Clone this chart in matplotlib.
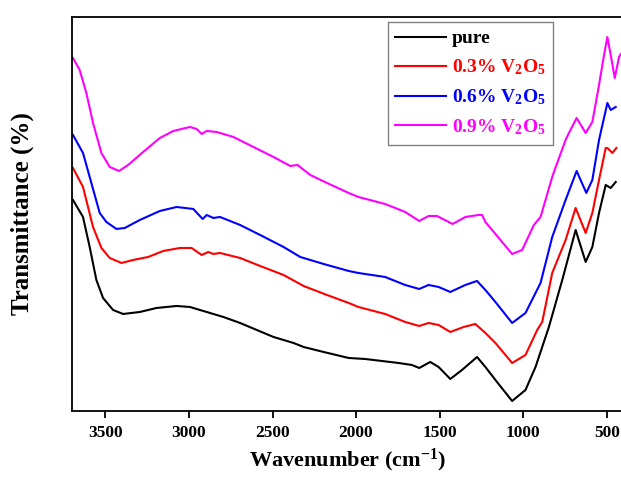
"""FTIR spectra of pure and V2O5-doped samples."""
import matplotlib
matplotlib.use("Agg")
import matplotlib.pyplot as plt

plt.rcParams['font.family'] = ['Liberation Serif', 'DejaVu Serif']
plt.rcParams['font.weight'] = 'bold'
plt.rcParams['mathtext.default'] = 'regular'

# Wavenumber (cm-1) and transmittance (arbitrary, offset)
wn_pure = [3694, 3634, 3594, 3554, 3514, 3454, 3394, 3294, 3194, 3074, 2994, 2894,
           2794, 2694, 2594, 2494, 2374, 2314, 2194, 2044, 1946, 1746, 1666, 1622,
           1556, 1506, 1436, 1366, 1276, 1226, 1166, 1066, 986, 926, 846, 766, 686,
           626, 586, 546, 506, 476, 446]
t_pure = [211, 194, 164, 131, 113, 101, 97, 99, 103, 105, 104, 99,
          94, 88, 81, 74, 68, 64, 59, 53, 52, 48, 46, 43,
          49, 44, 32, 41, 54, 44, 31, 10, 21, 44, 84, 131, 181,
          149, 164, 198, 226, 223, 229]

wn_03 = [3694, 3634, 3574, 3524, 3474, 3404, 3334, 3244, 3154, 3054, 2984, 2924,
         2884, 2854, 2814, 2694, 2574, 2434, 2314, 2174, 2044, 1986, 1826, 1706,
         1622, 1566, 1506, 1436, 1356, 1286, 1226, 1166, 1066, 986, 916, 886, 826,
         746, 686, 626, 586, 546, 506, 496, 466, 442]
t_03 = [243, 224, 184, 163, 153, 148, 151, 154, 160, 163, 163, 156,
        159, 157, 158, 153, 145, 136, 125, 116, 108, 104, 97, 89,
        85, 88, 86, 79, 84, 87, 78, 68, 48, 56, 81, 89, 138,
        171, 203, 178, 198, 231, 263, 263, 258, 263]

wn_06 = [3694, 3634, 3584, 3534, 3494, 3434, 3384, 3294, 3174, 3074, 2974, 2918,
         2894, 2854, 2814, 2694, 2574, 2434, 2334, 2194, 2044, 1986, 1826, 1706,
         1622, 1566, 1506, 1436, 1346, 1276, 1226, 1166, 1066, 986, 896, 826, 746,
         680, 622, 586, 546, 496, 476, 446]
t_06 = [276, 258, 228, 198, 189, 182, 183, 191, 200, 204, 202, 192,
        196, 193, 194, 186, 176, 164, 154, 147, 140, 138, 134, 126,
        122, 126, 124, 119, 126, 130, 121, 109, 88, 98, 128, 174, 211,
        240, 218, 231, 271, 308, 301, 304]

wn_09 = [3694, 3654, 3614, 3574, 3524, 3474, 3418, 3364, 3274, 3174, 3094, 2994,
         2954, 2924, 2894, 2834, 2734, 2614, 2494, 2394, 2350, 2274, 2174, 2044,
         1986, 1826, 1706, 1622, 1566, 1516, 1422, 1346, 1266, 1246, 1226, 1146,
         1066, 1006, 936, 896, 826, 816, 746, 726, 680, 626, 586, 546, 516, 496,
         476, 452, 426, 400]
t_09 = [353, 341, 318, 288, 258, 244, 240, 246, 259, 273, 280, 284,
        282, 277, 280, 279, 274, 264, 254, 245, 246, 236, 228, 218,
        214, 207, 199, 190, 195, 195, 187, 194, 196, 196, 189, 173,
        157, 161, 186, 194, 234, 239, 271, 278, 293, 278, 289, 326, 356, 374,
        356, 333, 354, 361]

series = [
    ("pure", wn_pure, t_pure, "black"),
    ("0.3% V$_2$O$_5$", wn_03, t_03, "red"),
    ("0.6% V$_2$O$_5$", wn_06, t_06, "blue"),
    ("0.9% V$_2$O$_5$", wn_09, t_09, "magenta"),
]

fig = plt.figure(figsize=(6.21, 4.78), dpi=100)
ax = fig.add_axes([0.1159, 0.1402, 0.888, 0.8243])

for label, wn, t, color in series:
    ax.plot(wn, t, color=color, linewidth=1.5, label=label)

ax.set_xlim(3700, 400)
ax.set_ylim(0, 394)
ax.set_xticks([3500, 3000, 2500, 2000, 1500, 1000, 500])
ax.set_yticks([])
ax.tick_params(axis='x', direction='out', length=5, width=1.3, labelsize=12.5, pad=5)
for lbl in ax.get_xticklabels():
    lbl.set_fontweight('bold')
for side in ['left', 'bottom', 'top', 'right']:
    ax.spines[side].set_linewidth(1.3)

ax.set_xlabel("Wavenumber (cm$^{-1}$)", fontsize=16, fontweight='bold', labelpad=4)
ax.set_ylabel("Transmittance (%)", fontsize=18, fontweight='bold', labelpad=27)

leg = ax.legend(loc='upper right', bbox_to_anchor=(0.873, 0.987), borderaxespad=0,
                fancybox=False, framealpha=1, edgecolor='gray',
                prop={'size': 14, 'weight': 'bold'},
                handlelength=2.6, handletextpad=0.3, labelspacing=0.52,
                borderpad=0.4)
leg.get_frame().set_linewidth(1.0)
for text, (_, _, _, color) in zip(leg.get_texts(), series):
    text.set_color(color)

fig.savefig("out.png", dpi=100, facecolor='white')
